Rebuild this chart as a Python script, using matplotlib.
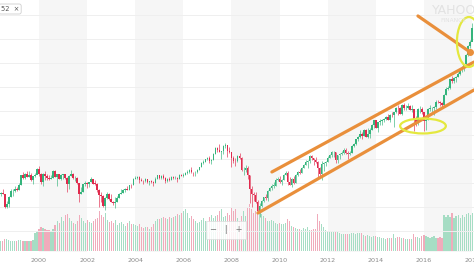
import matplotlib.pyplot as plt
from matplotlib.patches import Ellipse
import numpy as np

# monthly Dow candles, May 1998 .. Jan 2018
first_month = 1998 + 4 / 12
first_open = 9063

closes = [
    8900, 8952, 8883, 7539, 7843, 8592, 9117, 9181,
    9359, 9307, 9786, 10789, 10560, 10971, 10655, 10829, 10337, 10729, 10878, 11497,
    10941, 10128, 10922, 10734, 10522, 10448, 10522, 11215, 10651, 10971, 10415, 10788,
    10887, 10495, 9879, 10735, 10912, 10502, 10523, 9950, 8848, 9075, 9852, 10021,
    9920, 10106, 10404, 9946, 9925, 9243, 8737, 8664, 7592, 8397, 8896, 8342,
    8054, 7891, 7992, 8480, 8850, 8985, 9234, 9416, 9275, 9801, 9782, 10454,
    10488, 10584, 10358, 10226, 10188, 10435, 10140, 10174, 10080, 10027, 10428, 10783,
    10490, 10766, 10504, 10193, 10467, 10275, 10641, 10482, 10569, 10440, 10806, 10718,
    10865, 10993, 11109, 11367, 11168, 11150, 11186, 11381, 11679, 12081, 12222, 12463,
    12622, 12269, 12354, 13063, 13628, 13409, 13212, 13358, 13896, 13930, 13372, 13265,
    12650, 12266, 12263, 12820, 12638, 11350, 11378, 11544, 10851, 9325, 8829, 8776,
    8001, 7063, 7609, 8168, 8500, 8447, 9172, 9496, 9712, 9713, 10345, 10428,
    10067, 10325, 10857, 11009, 10137, 9774, 10466, 10015, 10788, 11118, 11006, 11578,
    11892, 12226, 12320, 12811, 12570, 12414, 12143, 11614, 10913, 11955, 12046, 12218,
    12633, 12952, 13212, 13214, 12393, 12880, 13009, 13091, 13437, 13096, 13026, 13104,
    13861, 14054, 14579, 14840, 15116, 14910, 15500, 14810, 15130, 15546, 16086, 16577,
    15699, 16322, 16458, 16581, 16717, 16827, 16563, 17098, 17043, 17391, 17828, 17823,
    17165, 18133, 17776, 17841, 18011, 17620, 17690, 16528, 16285, 17664, 17720, 17425,
    16466, 16517, 17685, 17774, 17787, 17930, 18432, 18401, 18308, 18142, 19124, 19763,
    19864, 20812, 20663, 20941, 21009, 21350, 21891, 21948, 22405, 23377, 24272, 24719,
    26149,
]

highs = [
    9212, 9070, 9338, 8900, 8150, 8600, 9400, 9374,
    9643, 9556, 10006, 10878, 11107, 11069, 11252, 11299, 11079, 10734, 11090, 11568,
    11750, 11041, 11052, 11287, 10936, 10863, 10843, 11310, 11401, 10977, 10952, 10936,
    10983, 10983, 10645, 10854, 11350, 11080, 10700, 10610, 10000, 9600, 9906, 10170,
    10150, 10150, 10673, 10428, 10353, 9957, 9380, 9077, 8722, 8543, 9043, 9000,
    8869, 8110, 8522, 8600, 8932, 9323, 9350, 9458, 9686, 9833, 9872, 10495,
    10754, 10754, 10678, 10570, 10300, 10530, 10400, 10200, 10360, 10240, 10600, 10868,
    10854, 10841, 10984, 10600, 10560, 10650, 10720, 10719, 10705, 10650, 10940, 10985,
    11043, 11138, 11334, 11413, 11670, 11190, 11257, 11425, 11718, 12167, 12361, 12529,
    12700, 12795, 12500, 13120, 13710, 13700, 14022, 13380, 14000, 14198, 13990, 13726,
    13279, 12767, 12622, 12891, 13136, 12657, 11699, 11867, 11790, 10882, 9654, 9026,
    9088, 8280, 7925, 8230, 8588, 8878, 9241, 9630, 9918, 10120, 10496, 10580,
    10730, 10400, 10908, 11258, 11205, 10594, 10500, 10720, 10948, 11247, 11451, 11656,
    12020, 12391, 12419, 12876, 12928, 12570, 12753, 12284, 11716, 12284, 12187, 12330,
    12841, 13055, 13289, 13338, 13280, 12900, 13100, 13330, 13653, 13661, 13290, 13300,
    13969, 14150, 14585, 14888, 15543, 15340, 15634, 15659, 15709, 15721, 16175, 16588,
    16588, 16400, 16630, 16631, 16735, 16978, 17151, 17153, 17350, 17400, 17895, 18103,
    17951, 18244, 18289, 18175, 18351, 18111, 18137, 17700, 16933, 17799, 17977, 17888,
    17405, 16795, 17790, 18167, 17934, 18016, 18622, 18668, 18565, 18399, 19225, 19987,
    20125, 20851, 21169, 21070, 21112, 21535, 21929, 22179, 22420, 23485, 24328, 24876,
    26617,
]

lows = [
    8848, 8627, 8835, 7400, 7400, 7467, 8590, 8695,
    9016, 9133, 9268, 9786, 10466, 10400, 10624, 10646, 10213, 9884, 10581, 10998,
    10679, 9862, 9731, 10305, 10299, 10364, 10399, 10511, 10600, 9654, 10376, 10318,
    10431, 10432, 9106, 9389, 10714, 10397, 10175, 9932, 8062, 8812, 9076, 9700,
    9530, 9580, 10075, 9852, 9808, 9076, 7532, 8043, 7528, 7197, 8303, 8232,
    7992, 7673, 7416, 7992, 8454, 8850, 8985, 9036, 9275, 9280, 9500, 9782,
    10410, 10450, 10007, 10200, 9853, 10150, 9950, 9800, 10010, 9708, 10000, 10428,
    10368, 10400, 10402, 10012, 10094, 10250, 10269, 10397, 10374, 10156, 10406, 10683,
    10661, 10784, 10924, 11000, 10997, 10699, 10739, 11000, 11370, 11670, 11986, 12175,
    12388, 12050, 11940, 12354, 13060, 13234, 13210, 12517, 13016, 13594, 12724, 13101,
    11634, 12053, 11731, 12232, 12544, 11287, 10827, 11144, 10365, 7882, 7449, 8118,
    7909, 7050, 6470, 7467, 8057, 8186, 8087, 9154, 9253, 9430, 9679, 10235,
    10025, 9835, 10321, 10838, 9774, 9757, 9614, 9937, 10009, 10712, 10929, 11010,
    11576, 11862, 11555, 12093, 12358, 11862, 12093, 10604, 10597, 10362, 11231, 11735,
    12218, 12630, 12742, 12710, 12035, 12101, 12492, 12882, 12977, 12970, 12471, 12883,
    13104, 13700, 14000, 14400, 14700, 14551, 14900, 14760, 14720, 14719, 15500, 15700,
    15699, 15340, 16016, 16015, 16333, 16600, 16560, 16333, 16900, 15855, 17300, 17067,
    17136, 17037, 17585, 17600, 17700, 17590, 17400, 15370, 15942, 16013, 17320, 17138,
    15451, 15503, 16545, 17484, 17331, 17063, 17713, 18289, 18000, 17959, 17884, 19150,
    19678, 19831, 20412, 20379, 20554, 21000, 21279, 21600, 21709, 22416, 23242, 24068,
    24741,
]

volume = [
    9, 10, 10, 12, 12, 11, 10, 10,
    10, 10, 11, 11, 10, 10, 10, 10, 10, 11, 18, 20,
    22, 24, 23, 22, 21, 21, 20, 22, 26, 30, 28, 34,
    30, 36, 37, 33, 30, 28, 27, 30, 36, 33, 30, 28,
    31, 29, 28, 30, 32, 33, 40, 36, 34, 38, 31, 29,
    30, 28, 31, 26, 28, 29, 27, 25, 28, 30, 27, 27,
    26, 25, 27, 24, 23, 24, 24, 22, 24, 27, 30, 32,
    32, 33, 34, 33, 32, 34, 33, 34, 35, 37, 36, 38,
    40, 42, 38, 33, 35, 32, 30, 28, 29, 31, 33, 30,
    29, 34, 36, 33, 35, 36, 40, 42, 34, 35, 38, 36,
    44, 40, 42, 33, 30, 35, 40, 35, 44, 47, 42, 38,
    40, 42, 44, 37, 35, 33, 30, 30, 31, 30, 28, 27,
    28, 27, 27, 28, 32, 30, 25, 24, 23, 22, 22, 21,
    23, 22, 24, 21, 21, 22, 22, 37, 30, 27, 24, 21,
    20, 19, 19, 19, 19, 19, 18, 17, 17, 17, 17, 17,
    18, 18, 17, 18, 18, 18, 16, 15, 16, 15, 14, 15,
    15, 14, 14, 13, 13, 12, 13, 13, 13, 17, 13, 14,
    14, 13, 13, 12, 12, 12, 12, 17, 14, 14, 13, 15,
    16, 15, 14, 13, 14, 15, 13, 13, 14, 13, 36, 34,
    36, 34, 38, 33, 35, 36, 33, 36, 34, 37, 38, 36,
    38,
]

tick_years = [2000, 2002, 2004, 2006, 2008, 2010, 2012, 2014, 2016, 2018]
grid_levels = [5000, 7500, 10000, 12500, 15000, 17500, 20000, 22500, 25000, 27500]

# hand-drawn annotations (year, price)
lower_channel = ([2009.10, 2018.08], [6875, 19690])
upper_channel = ([2009.68, 2018.08], [11150, 22600])
down_arrow = ([2015.75, 2017.91], [27400, 23650])
ellipse_top = (2017.87, 24690, 1.0, 5200)
ellipse_low = (2015.96, 15940, 1.9, 1560)

up_c, dn_c = '#35b47c', '#e02a4d'
up_v, dn_v = '#a6ddc4', '#f0abbb'
orange = '#e98f3b'
yellow = '#e4e83e'

n = len(closes)
x = first_month + np.arange(n) / 12
opens = np.array([first_open] + closes[:-1])
closes = np.array(closes)
up = closes >= opens

fig = plt.figure(figsize=(4.74, 2.66), dpi=100)
pos = [0, 14 / 266, 1, 252 / 266]
xlim = (2000 - 39 / 24.06, 2000 + 435 / 24.06)

vax = fig.add_axes(pos)
vax.set_xlim(xlim)
vax.set_ylim(-1.5, 250.5)
for y0 in range(1996, 2020, 4):
    vax.axvspan(y0, y0 + 2, color='#f6f6f6', lw=0, zorder=0)
vax.bar(x, volume, width=0.045, color=np.where(up, up_v, dn_v), lw=0,
        antialiased=False, zorder=2)
vax.set_yticks([])
vax.set_xticks(tick_years)
vax.set_xticklabels([str(t) for t in tick_years], fontsize=4.6, color='#8a8a8a')
vax.tick_params(axis='x', length=0, pad=4)
for s in vax.spines.values():
    s.set_visible(False)

ax = fig.add_axes(pos, facecolor='none')
ax.set_xlim(xlim)
ax.set_ylim(25000 - 213 / 0.0096, 25000 + 39 / 0.0096)
ax.set_yticks(grid_levels)
ax.grid(axis='y', color='#efefef', lw=0.7)
ax.set_axisbelow(True)
ax.set_xticks([])
ax.tick_params(axis='y', length=0, labelleft=False)
for s in ax.spines.values():
    s.set_visible(False)

cols = np.where(up, up_c, dn_c)
ax.vlines(x, lows, highs, colors=cols, lw=0.45, zorder=3)
body_lo = np.minimum(opens, closes)
body_h = np.maximum(np.abs(closes - opens), 40)
ax.bar(x, body_h, bottom=body_lo, width=0.06, color=cols, lw=0, zorder=4)

for xs, ys in (lower_channel, upper_channel, down_arrow):
    ax.plot(xs, ys, color=orange, lw=2.3, solid_capstyle='round', zorder=6)
ax.plot(down_arrow[0][1], down_arrow[1][1], 'o', color=orange, ms=4, zorder=6)
for cx, cy, w, h in (ellipse_top, ellipse_low):
    ax.add_patch(Ellipse((cx, cy), w, h, fill=False, ec=yellow, lw=1.6, zorder=7))

# ui bits from the screenshot
fig.text(432 / 474, 1 - 10 / 266, 'YAHOO!', fontsize=9, color='#e2e2e2', va='center')
fig.text(440 / 474, 1 - 21 / 266, 'FINANCE', fontsize=4.2, color='#e2e2e2', va='center')
fig.text(0.002, 1 - 9 / 266, '52  \u00d7', fontsize=4.8, color='#555555', va='center',
         bbox=dict(boxstyle='round,pad=0.3', fc='white', ec='#cfcfcf', lw=0.6))
fig.text(226 / 474, 1 - 230 / 266, '\u2212   |   +', fontsize=6, color='#777777',
         ha='center', va='center',
         bbox=dict(boxstyle='square,pad=0.5', fc='white', ec='#dddddd', lw=0.6, alpha=0.85))

fig.savefig('out.png', dpi=100)
